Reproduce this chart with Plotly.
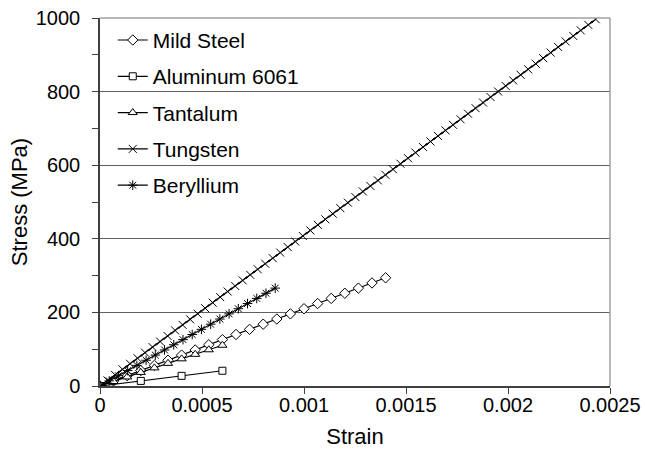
import plotly.graph_objects as go

# Elastic stress-strain data (strain, stress in MPa)
mild_steel_strain = [0, 0.0000667, 0.0001333, 0.0002, 0.0002667, 0.0003333, 0.0004, 0.0004667,
                     0.0005333, 0.0006, 0.0006667, 0.0007333, 0.0008, 0.0008667, 0.0009333, 0.001,
                     0.0010667, 0.0011333, 0.0012, 0.0012667, 0.0013333, 0.0014]
mild_steel_stress = [0, 14, 28, 42, 56, 70, 84, 98, 112, 126, 140, 154, 168, 182, 196, 210,
                     224, 238, 252, 266, 280, 294]

aluminum_strain = [0, 0.0002, 0.0004, 0.0006]
aluminum_stress = [0, 13.8, 27.6, 41.4]

tantalum_strain = [0, 0.0000667, 0.0001333, 0.0002, 0.0002667, 0.0003333, 0.0004, 0.0004667,
                   0.0005333, 0.0006]
tantalum_stress = [0, 12.3, 24.6, 36.9, 49.2, 61.5, 73.8, 86.1, 98.4, 110.7]

tungsten_strain = [0, 0.0000368, 0.0000736, 0.0001105, 0.0001473, 0.0001841, 0.0002209, 0.0002577,
                   0.0002946, 0.0003314, 0.0003682, 0.000405, 0.0004418, 0.0004787, 0.0005155,
                   0.0005523, 0.0005891, 0.0006259, 0.0006628, 0.0006996, 0.0007364, 0.0007732,
                   0.00081, 0.0008469, 0.0008837, 0.0009205, 0.0009573, 0.0009941, 0.001031,
                   0.0010678, 0.0011046, 0.0011414, 0.0011782, 0.0012151, 0.0012519, 0.0012887,
                   0.0013255, 0.0013623, 0.0013992, 0.001436, 0.0014728, 0.0015096, 0.0015464,
                   0.0015833, 0.0016201, 0.0016569, 0.0016937, 0.0017305, 0.0017674, 0.0018042,
                   0.001841, 0.0018778, 0.0019146, 0.0019515, 0.0019883, 0.0020251, 0.0020619,
                   0.0020987, 0.0021356, 0.0021724, 0.0022092, 0.002246, 0.0022828, 0.0023197,
                   0.0023565, 0.0023933, 0.0024301]
tungsten_stress = [0, 15.1, 30.2, 45.3, 60.4, 75.5, 90.6, 105.7, 120.8, 135.9,
                   151, 166.1, 181.2, 196.3, 211.4, 226.5, 241.6, 256.7, 271.8, 286.9,
                   302, 317.1, 332.2, 347.3, 362.4, 377.5, 392.6, 407.7, 422.8, 437.9,
                   453, 468.1, 483.2, 498.3, 513.4, 528.5, 543.6, 558.7, 573.8, 588.9,
                   604, 619.1, 634.2, 649.3, 664.4, 679.5, 694.6, 709.7, 724.8, 739.9,
                   755, 770.1, 785.2, 800.3, 815.4, 830.5, 845.6, 860.7, 875.8, 890.9,
                   906, 921.1, 936.2, 951.3, 966.4, 981.5, 996.6]

beryllium_strain = [0, 0.0000452, 0.0000904, 0.0001356, 0.0001808, 0.000226, 0.0002712,
                    0.0003164, 0.0003616, 0.0004068, 0.000452, 0.0004972, 0.0005424,
                    0.0005876, 0.0006328, 0.000678, 0.0007232, 0.0007684, 0.0008136, 0.0008588]
beryllium_stress = [0, 14, 28, 42, 56, 70, 84, 98, 112, 126, 140, 154, 168, 182, 196, 210,
                    224, 238, 252, 266]

x_ticks = [0, 0.0005, 0.001, 0.0015, 0.002, 0.0025]
x_tick_labels = ["0", "0.0005", "0.001", "0.0015", "0.002", "0.0025"]

FONT = "Liberation Sans, Arial, sans-serif"

series = [
    ("Mild Steel", mild_steel_strain, mild_steel_stress, "diamond", 8),
    ("Aluminum 6061", aluminum_strain, aluminum_stress, "square", 7),
    ("Tantalum", tantalum_strain, tantalum_stress, "triangle-up", 8),
    ("Tungsten", tungsten_strain, tungsten_stress, "x-thin", 8),
    ("Beryllium", beryllium_strain, beryllium_stress, "asterisk", 8),
]

fig = go.Figure()
for i, (name, xs, ys, sym, size) in enumerate(series):
    thin = sym in ("x-thin", "asterisk")
    fig.add_trace(go.Scatter(
        x=xs, y=ys, name=name, mode="lines+markers",
        legendgroup=f"g{i}",
        line=dict(color="black", width=1.2),
        marker=dict(symbol=sym, size=size,
                    color="black" if thin else "white",
                    line=dict(color="black", width=1)),
    ))

# light frame on the top and right of the plot area
fig.add_shape(type="line", xref="paper", yref="paper", x0=0, x1=1, y0=1, y1=1,
              line=dict(color="#a0a0a0", width=1.5))
fig.add_shape(type="line", xref="paper", yref="paper", x0=1, x1=1, y0=0, y1=1,
              line=dict(color="#a0a0a0", width=1.5))

fig.update_layout(
    width=645, height=455,
    margin=dict(l=100, r=35, t=18, b=69),
    paper_bgcolor="white", plot_bgcolor="white",
    font=dict(family=FONT, size=20, color="black"),
    showlegend=True,
    legend=dict(x=0.025, y=0.995, xanchor="left", yanchor="top",
                bgcolor="rgba(0,0,0,0)", font=dict(size=21),
                tracegroupgap=6, itemwidth=30),
    xaxis=dict(
        range=[0, 0.0025], tickvals=x_ticks, ticktext=x_tick_labels,
        automargin=False,
        showgrid=False, zeroline=False,
        showline=True, linecolor="#404040", linewidth=1.5,
        ticks="outside", ticklen=6, tickcolor="#404040",
        ticklabelstandoff=-6,
        tickfont=dict(size=20),
        title=dict(text="Strain", font=dict(size=22), standoff=14),
    ),
    yaxis=dict(
        range=[0, 1000], dtick=200,
        automargin=False,
        showgrid=True, gridcolor="#606060", gridwidth=1,
        zeroline=False,
        showline=True, linecolor="#404040", linewidth=1.5,
        ticks="outside", ticklen=6, tickcolor="#404040",
        ticklabelstandoff=8,
        tickfont=dict(size=20),
        minor=dict(dtick=100, ticks="outside", ticklen=6, tickcolor="#404040", showgrid=False),
        title=dict(text="Stress (MPa)", font=dict(size=22), standoff=2),
    ),
)

fig.write_html("out.html")
